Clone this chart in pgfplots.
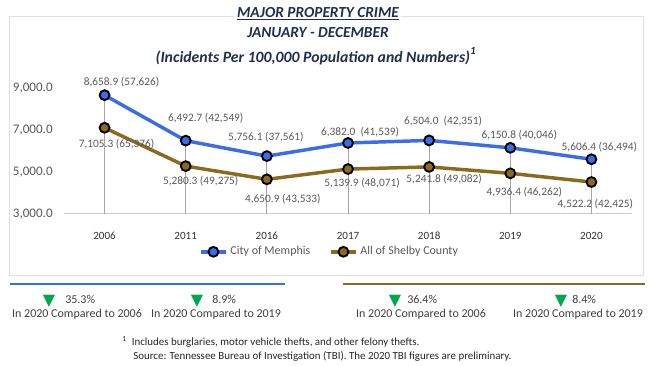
\documentclass[border=0pt]{standalone}
\usepackage{pgfplots}
\pgfplotsset{compat=1.18}
\usepackage{pgfplotstable}
\usepackage{fontspec}
\setmainfont{Carlito}
\newfontfamily\dejavu{DejaVu Sans}
\definecolor{memblue}{HTML}{3C6DE8}
\definecolor{shelby}{HTML}{8B6A1E}
\definecolor{titlecol}{HTML}{1F2F4F}
\definecolor{lbl}{HTML}{595959}
\definecolor{tri}{HTML}{00A651}

\pgfplotstableread{
x y
0 8658.9
1 6492.7
2 5756.1
3 6382.0
4 6504.0
5 6150.8
6 5606.4
}\memphis
\pgfplotstableread{
x y
0 7105.3
1 5280.3
2 4650.9
3 5139.9
4 5241.8
5 4936.4
6 4522.2
}\shelbytab

\newcommand\dl[5]{\node[font=\fontsize{8.5}{10}\selectfont, text=lbl, inner sep=0pt] at (axis cs:#1,#2) [xshift=#3, yshift=#4] {#5};}

\begin{document}
\begin{tikzpicture}
\begin{scope}[x=0.75pt,y=0.75pt]
\path[use as bounding box] (0,0) rectangle (657,366);
\draw[black!12, line width=0.75pt] (9,90) rectangle (643,349);
\end{scope}
\begin{axis}[
  at={(48pt,114pt)}, anchor=south west,
  scale only axis, width=426pt, height=94.5pt,
  xmin=-0.5, xmax=6.5, ymin=3000, ymax=9000,
  clip=false,
  axis x line*=bottom, axis y line*=left,
  y axis line style={draw=none},
  x axis line style={black!20, line width=0.75pt, -},
  xtick={0,...,6},
  xticklabels={2006,2011,2016,2017,2018,2019,2020},
  ytick={3000,5000,7000,9000},
  major tick length=0pt,
  /pgf/number format/assume math mode=true,
  yticklabel={\pgfmathprintnumber[fixed, fixed zerofill, precision=1, 1000 sep={,}]{\tick}},
  yticklabel style={font=\fontsize{9.8}{11}\selectfont, text=lbl, xshift=-5pt},
  xticklabel style={font=\fontsize{8.3}{10}\selectfont, text=black!80, yshift=-10pt},
  legend style={at={(0.468,-0.30)}, anchor=center, draw=none, fill=none,
    font=\fontsize{9}{11}\selectfont, text=lbl, legend columns=2,
    /tikz/every even column/.append style={column sep=12pt},
    inner sep=0pt},
  legend image code/.code={\draw[mark repeat=2,mark phase=2,#1] plot coordinates {(0pt,0pt) (9.5pt,0pt) (19pt,0pt)};},
  legend cell align=left,
]
\addplot[forget plot, ycomb, draw=black!35, line width=0.6pt, mark=none] table {\memphis};
\addplot[memblue, line width=2.6pt, mark=*, mark size=3.7pt, mark options={draw=black, fill=memblue, line width=1.4pt}] table {\memphis};
\addlegendentry{City of Memphis}
\addplot[shelby, line width=2.6pt, mark=*, mark size=3.7pt, mark options={draw=black, fill=shelby, line width=1.4pt}] table {\shelbytab};
\addlegendentry{All of Shelby County}

\dl{0}{8658.9}{12.75pt}{9.75pt}{8,658.9 (57,626)}
\dl{1}{6492.7}{15pt}{17.25pt}{6,492.7 (42,549)}
\dl{2}{5756.1}{-0.75pt}{14.25pt}{5,756.1 (37,561)}
\dl{3}{6382.0}{9pt}{8pt}{6,382.0\ \ (41,539)}
\dl{4}{6504.0}{10.5pt}{14.25pt}{6,504.0\ \ (42,351)}
\dl{5}{6150.8}{6.75pt}{9.75pt}{6,150.8 (40,046)}
\dl{6}{5606.4}{6pt}{9pt}{5,606.4 (36,494)}

\dl{0}{7105.3}{9pt}{-12pt}{7,105.3 (65,376)}
\dl{1}{5280.3}{11.25pt}{-11.25pt}{5,280.3 (49,275)}
\dl{2}{4650.9}{12pt}{-15pt}{4,650.9 (43,533)}
\dl{3}{5139.9}{10.5pt}{-10.5pt}{5,139.9 (48,071)}
\dl{4}{5241.8}{11.25pt}{-9pt}{5,241.8 (49,082)}
\dl{5}{4936.4}{10.5pt}{-14.25pt}{4,936.4 (46,262)}
\dl{6}{4522.2}{3pt}{-16.5pt}{4,522.2 (42,425)}
\end{axis}
\begin{scope}[x=0.75pt,y=0.75pt]
% titles
\node[fill=white, inner sep=1.5pt, text=titlecol, font=\fontsize{11.5}{13}\selectfont\bfseries\itshape] at (318,352) {\underline{MAJOR PROPERTY CRIME}};
\node[text=titlecol, font=\fontsize{11.5}{13}\selectfont\bfseries\itshape] at (318,333) {JANUARY - DECEMBER};
\node[text=titlecol, font=\fontsize{11.8}{13}\selectfont\bfseries\itshape] at (316,310) {(Incidents Per 100,000 Population and Numbers)\raisebox{2pt}{\textsuperscript{1}}};
% bottom lines
\draw[memblue, line width=1.5pt] (10,82) -- (285,82);
\draw[shelby, line width=1.5pt] (343,82) -- (645,82);
% triangles
\foreach \tx in {49,197,395,561}{
  \node[text=tri, font=\dejavu\fontsize{12}{12}\selectfont, inner sep=0pt] at (\tx,65) {▼};
}
\begin{scope}[every node/.style={font=\fontsize{9}{11}\selectfont, text=black!75, inner sep=0pt}]
\node[anchor=west] at (65,67) {35.3\%};
\node[anchor=west] at (212,67) {8.9\%};
\node[anchor=west] at (407,67) {36.4\%};
\node[anchor=west] at (572,67) {8.4\%};
\node at (77,52) {In 2020 Compared to 2006};
\node at (216,52) {In 2020 Compared to 2019};
\node at (421,52) {In 2020 Compared to 2006};
\node at (578,52) {In 2020 Compared to 2019};
\end{scope}
\begin{scope}[every node/.style={font=\fontsize{8.2}{10}\selectfont, text=black!85, inner sep=0pt, anchor=west}]
\node at (122,24) {\textsuperscript{1}\ \ Includes burglaries, motor vehicle thefts, and other felony thefts.};
\node at (133,10) {Source: Tennessee Bureau of Investigation (TBI). The 2020 TBI figures are preliminary.};
\end{scope}
\end{scope}
\end{tikzpicture}
\end{document}
